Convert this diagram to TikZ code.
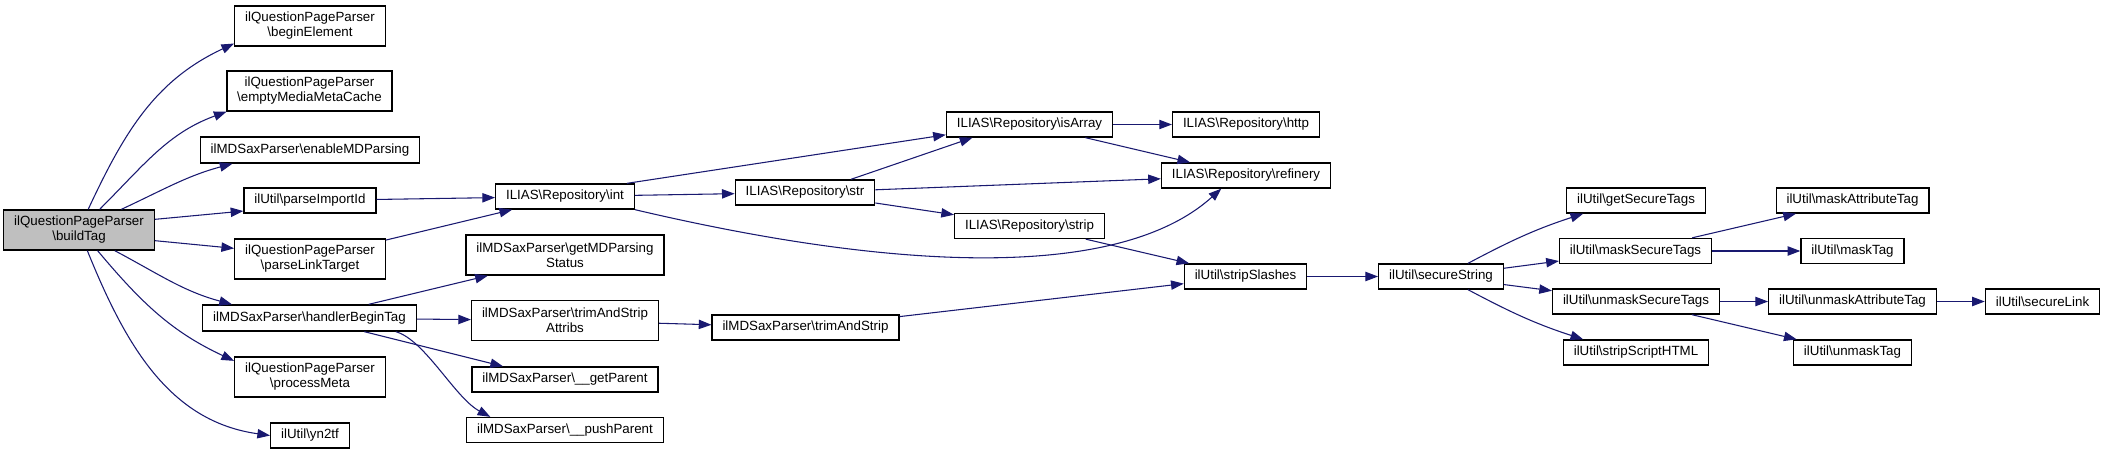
\documentclass[tikz,border=0pt]{standalone}
\usepackage{fontspec}
\setmainfont{Liberation Sans}
\usetikzlibrary{arrows.meta}

\newcommand{\bsl}{\textbackslash}
\definecolor{edgeblue}{HTML}{191970}
\definecolor{rootgray}{HTML}{BFBFBF}

\begin{document}
\begin{tikzpicture}[x=0.75pt, y=-0.75pt,
    fn/.style={rectangle, draw=black, line width=1pt, inner xsep=7.8pt, inner ysep=1pt,
        minimum height=18.75pt, font=\fontsize{10}{11.25}\selectfont},
    fn2/.style={fn, align=center, minimum height=30pt},
    call/.style={draw=edgeblue, line width=0.8pt, -{Triangle[length=9.5pt,width=7pt]}}]
        \useasboundingbox (0,0) rectangle (2105,454);
        % callers column
        \node (build tag) [fn2, fill=rootgray] at (79,230) {ilQuestionPageParser\\\bsl buildTag};
        \node (begin element) [fn2] at (310,26) {ilQuestionPageParser\\\bsl beginElement};
        \node (empty cache) [fn2] at (309.5,91) {ilQuestionPageParser\\\bsl emptyMediaMetaCache};
        \node (enable parsing) [fn, minimum height=19.5pt] at (310,150) {ilMDSaxParser\bsl enableMDParsing};
        \node (parse import) [fn] at (310,200.5) {ilUtil\bsl parseImportId};
        \node (parse link) [fn2] at (310,259) {ilQuestionPageParser\\\bsl parseLinkTarget};
        \node (begin tag) [fn, minimum height=19.5pt] at (309.5,318) {ilMDSaxParser\bsl handlerBeginTag};
        \node (process meta) [fn2] at (310,377) {ilQuestionPageParser\\\bsl processMeta};
        \node (yn2tf) [fn] at (310,435.5) {ilUtil\bsl yn2tf};
        % second level
        \node (repo int) [fn] at (565,196.5) {ILIAS\bsl Repository\bsl int};
        \node (parsing status) [fn2] at (565,255) {ilMDSaxParser\bsl getMDParsing\\Status};
        \node (trim attribs) [fn2] at (565,320.5) {ilMDSaxParser\bsl trimAndStrip\\Attribs};
        \node (get parent) [fn] at (565,379.5) {ilMDSaxParser\bsl\_\_getParent};
        \node (push parent) [fn] at (565,430) {ilMDSaxParser\bsl\_\_pushParent};
        \node (repo str) [fn] at (805,192.5) {ILIAS\bsl Repository\bsl str};
        \node (trim strip) [fn] at (805.5,327.5) {ilMDSaxParser\bsl trimAndStrip};
        \node (repo is array) [fn] at (1029.5,124.5) {ILIAS\bsl Repository\bsl isArray};
        \node (repo strip) [fn] at (1029.5,226) {ILIAS\bsl Repository\bsl strip};
        \node (repo http) [fn] at (1246,124.5) {ILIAS\bsl Repository\bsl http};
        \node (repo refinery) [fn] at (1246,175.5) {ILIAS\bsl Repository\bsl refinery};
        \node (strip slashes) [fn] at (1245.5,276.5) {ilUtil\bsl stripSlashes};
        % secure string tree
        \node (secure string) [fn] at (1441,276.5) {ilUtil\bsl secureString};
        \node (get tags) [fn] at (1636,200.5) {ilUtil\bsl getSecureTags};
        \node (mask tags) [fn] at (1635.5,251) {ilUtil\bsl maskSecureTags};
        \node (unmask tags) [fn] at (1636,301.5) {ilUtil\bsl unmaskSecureTags};
        \node (strip script) [fn] at (1636,352.5) {ilUtil\bsl stripScriptHTML};
        \node (mask attribute) [fn] at (1852.5,200.5) {ilUtil\bsl maskAttributeTag};
        \node (mask tag) [fn] at (1852.5,251) {ilUtil\bsl maskTag};
        \node (unmask attribute) [fn] at (1852.5,301.5) {ilUtil\bsl unmaskAttributeTag};
        \node (unmask tag) [fn] at (1852.5,352.5) {ilUtil\bsl unmaskTag};
        \node (secure link) [fn] at (2042.5,301.5) {ilUtil\bsl secureLink};
        % calls
        \draw [call] (build tag.66) to[out=65,in=205] (begin element.193);
        \draw [call] (build tag.45) to[out=45,in=200] (empty cache.194);
        \draw [call] (build tag.26) to[out=25,in=195] (enable parsing.190);
        \draw [call] (build tag.8) -- (parse import.189);
        \draw [call] (build tag.352) -- (parse link.172);
        \draw [call] (build tag.330) to[out=-28,in=165] (begin tag.170);
        \draw [call] (build tag.312) to[out=-50,in=155] (process meta.168);
        \draw [call] (build tag.292) to[out=-68,in=172] (yn2tf.west);
        \draw [call] (parse import) -- (repo int);
        \draw [call] (parse link.14) -- (repo int.194);
        \draw [call] (begin tag.13) -- (parsing status.195);
        \draw [call] (begin tag) -- (trim attribs);
        \draw [call] (begin tag.346) -- (get parent.168);
        \draw [call] (begin tag.351) .. controls (425,340) and (455,398) .. (push parent.170);
        \draw [call] (repo int) -- (repo str);
        \draw [call] (repo int.12) -- (repo is array.187);
        \draw [call] (repo int.south east) .. controls (900,272) and (1120,280) .. (repo refinery.208);
        \draw [call] (repo str.16) -- (repo is array.193);
        \draw [call] (repo str) -- (repo refinery);
        \draw [call] (repo str) -- (repo strip);
        \draw [call] (repo is array) -- (repo http);
        \draw [call] (repo is array) -- (repo refinery);
        \draw [call] (repo strip) -- (strip slashes);
        \draw [call] (trim attribs) -- (trim strip);
        \draw [call] (trim strip) -- (strip slashes);
        \draw [call] (strip slashes) -- (secure string);
        \draw [call] (secure string.26) to[out=28,in=198] (get tags.194);
        \draw [call] (secure string) -- (mask tags);
        \draw [call] (secure string) -- (unmask tags);
        \draw [call] (secure string.334) to[out=-28,in=162] (strip script.166);
        \draw [call] (mask tags) -- (mask attribute);
        \draw [call] (mask tags) -- (mask tag);
        \draw [call] (unmask tags) -- (unmask attribute);
        \draw [call] (unmask tags) -- (unmask tag);
        \draw [call] (unmask attribute) -- (secure link);
    \end{tikzpicture}
\end{document}
